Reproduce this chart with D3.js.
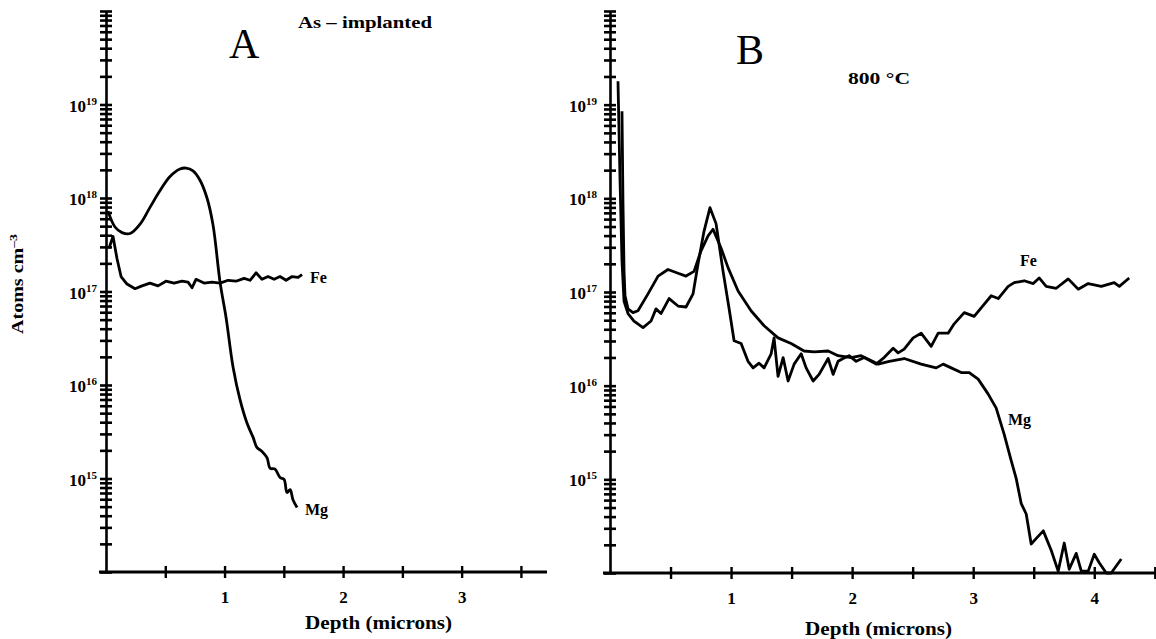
<!DOCTYPE html>
<html>
<head>
<meta charset="utf-8">
<script src="https://cdn.jsdelivr.net/npm/d3@7"></script>
<style>
    body { margin: 0; background: #fff; }
    svg { display: block; }
    .lbl { font-family: "Liberation Serif", serif; font-weight: bold; fill: #000; }
</style>
</head>
<body>
<svg id="chart" width="1156" height="639"></svg>
<script>
// depth in microns, concentration stored as log10(atoms cm^-3)
const decadeLabels = [15, 16, 17, 18, 19];
const xTicksA = [0.5, 1, 1.5, 2, 2.5, 3, 3.5];
const xTicksB = [0.5, 1, 1.5, 2, 2.5, 3, 3.5, 4, 4.5];

// Panel A : as-implanted
const feA = [
    [0.025, 17.46], [0.059, 17.59], [0.093, 17.35], [0.127, 17.16], [0.177, 17.08],
    [0.245, 17.03], [0.304, 17.06], [0.371, 17.09], [0.439, 17.06], [0.506, 17.11],
    [0.574, 17.09], [0.641, 17.11], [0.692, 17.10], [0.726, 17.04], [0.759, 17.13],
    [0.827, 17.09], [0.895, 17.10], [0.962, 17.09], [1.030, 17.12], [1.097, 17.11],
    [1.165, 17.14], [1.215, 17.12], [1.266, 17.20], [1.316, 17.13], [1.367, 17.16],
    [1.418, 17.13], [1.468, 17.16], [1.519, 17.12], [1.570, 17.16], [1.620, 17.15],
    [1.654, 17.18]
];
const mgA = [
    [0.017, 17.86], [0.076, 17.69], [0.135, 17.63], [0.203, 17.62], [0.287, 17.72],
    [0.371, 17.90], [0.456, 18.08], [0.540, 18.23], [0.624, 18.31], [0.675, 18.32],
    [0.734, 18.29], [0.793, 18.19], [0.852, 18.00], [0.903, 17.71], [0.962, 17.10],
    [1.013, 16.72], [1.072, 16.19], [1.131, 15.84], [1.190, 15.59], [1.241, 15.44],
    [1.274, 15.33], [1.316, 15.29], [1.359, 15.22], [1.384, 15.11], [1.426, 15.10],
    [1.468, 15.01], [1.502, 14.99], [1.527, 14.85], [1.553, 14.88], [1.578, 14.77],
    [1.612, 14.69]
];

// Panel B : 800 C anneal
const feB = [
    [0.066, 19.25], [0.083, 18.19], [0.099, 17.33], [0.116, 16.90], [0.149, 16.77],
    [0.198, 16.69], [0.273, 16.62], [0.339, 16.69], [0.380, 16.82], [0.421, 16.77],
    [0.488, 16.93], [0.562, 16.85], [0.628, 16.84], [0.686, 16.98], [0.727, 17.30],
    [0.777, 17.65], [0.826, 17.90], [0.876, 17.73], [0.934, 17.22], [0.983, 16.83],
    [1.025, 16.48], [1.083, 16.45], [1.140, 16.26], [1.182, 16.19], [1.231, 16.24],
    [1.273, 16.19], [1.331, 16.34], [1.355, 16.51], [1.388, 16.10], [1.430, 16.30],
    [1.471, 16.05], [1.521, 16.23], [1.579, 16.34], [1.620, 16.19], [1.678, 16.05],
    [1.727, 16.12], [1.802, 16.29], [1.843, 16.12], [1.884, 16.26], [1.926, 16.29],
    [1.975, 16.32], [2.033, 16.26], [2.099, 16.30], [2.157, 16.26], [2.198, 16.23],
    [2.264, 16.30], [2.339, 16.40], [2.380, 16.35], [2.430, 16.39], [2.504, 16.51],
    [2.570, 16.56], [2.653, 16.42], [2.711, 16.56], [2.793, 16.56], [2.843, 16.66],
    [2.926, 16.78], [3.008, 16.74], [3.066, 16.83], [3.149, 16.96], [3.207, 16.93],
    [3.289, 17.06], [3.339, 17.10], [3.421, 17.12], [3.496, 17.09], [3.545, 17.15],
    [3.603, 17.06], [3.686, 17.04], [3.785, 17.14], [3.868, 17.03], [3.950, 17.09],
    [4.058, 17.06], [4.165, 17.10], [4.207, 17.06], [4.289, 17.15]
];
const mgB = [
    [0.099, 18.93], [0.107, 17.97], [0.116, 17.22], [0.124, 16.96], [0.149, 16.82],
    [0.190, 16.78], [0.231, 16.80], [0.314, 16.98], [0.397, 17.17], [0.479, 17.24],
    [0.562, 17.20], [0.628, 17.17], [0.694, 17.22], [0.752, 17.44], [0.810, 17.60],
    [0.851, 17.67], [0.917, 17.47], [0.975, 17.26], [1.058, 17.01], [1.165, 16.80],
    [1.273, 16.64], [1.388, 16.51], [1.496, 16.45], [1.603, 16.37], [1.686, 16.36],
    [1.802, 16.37], [1.884, 16.32], [1.992, 16.30], [2.074, 16.32], [2.215, 16.23],
    [2.306, 16.26], [2.430, 16.29], [2.570, 16.23], [2.694, 16.19], [2.752, 16.23],
    [2.818, 16.19], [2.901, 16.14], [2.967, 16.14], [3.041, 16.07], [3.124, 15.91],
    [3.190, 15.76], [3.256, 15.48], [3.314, 15.20], [3.355, 15.01], [3.397, 14.74],
    [3.438, 14.63], [3.479, 14.31], [3.521, 14.37], [3.579, 14.45], [3.645, 14.24],
    [3.702, 14.02], [3.752, 14.32], [3.793, 14.04], [3.851, 14.21], [3.893, 14.02],
    [3.950, 14.02], [4.000, 14.20], [4.041, 14.11], [4.099, 14.00], [4.140, 14.00],
    [4.223, 14.15]
];

const svg = d3.select('#chart');

function drawPanel(cfg) {
    const x = d3.scaleLinear().domain([0, cfg.xMax]).range([cfg.x0, cfg.x1]);
    const y = d3.scaleLog().domain([1e14, 1e20]).range([cfg.y0, 11]);
    const g = svg.append('g');

    // log axis, ticks crossing the line
    const yAxis = g.append('g')
        .attr('transform', `translate(${cfg.x0},0)`)
        .call(d3.axisLeft(y).tickValues(y.ticks()).tickFormat('').tickSize(6).tickSizeOuter(0));
    yAxis.select('.domain').attr('stroke-width', 2.6);
    yAxis.selectAll('.tick line').attr('x1', 6).attr('x2', -6).attr('stroke-width', 2.6);

    const xAxis = g.append('g')
        .attr('transform', `translate(0,${cfg.y0})`)
        .call(d3.axisBottom(x).tickValues(cfg.xTicks).tickSize(5).tickSizeOuter(0)
            .tickFormat(d => Number.isInteger(d) ? d : ''));
    xAxis.select('.domain').attr('d', `M${cfg.x0 - 7},0H${cfg.x1}`).attr('stroke-width', 2.8);
    xAxis.selectAll('.tick line').attr('y1', -6).attr('y2', 6).attr('stroke-width', 2.4);
    xAxis.selectAll('.tick text')
        .attr('class', 'lbl')
        .attr('y', 31).attr('dy', 0)
        .style('font-size', '17px');

    // decade labels
    g.selectAll('.dec')
        .data(decadeLabels)
        .join('text')
        .attr('class', 'lbl dec')
        .attr('x', cfg.x0 - cfg.labelGap)
        .attr('y', d => y(10 ** d) + 7)
        .attr('text-anchor', 'end')
        .style('font-size', '17px')
        .text('10')
        .append('tspan')
        .attr('dy', -7)
        .style('font-size', '11px')
        .text(d => d);

    const line = d3.line()
        .x(d => x(d[0]))
        .y(d => y(10 ** d[1]));

    cfg.series.forEach(s => {
        g.append('path')
            .datum(s.data)
            .attr('fill', 'none')
            .attr('stroke', '#000')
            .attr('stroke-width', 2.8)
            .attr('stroke-linejoin', 'round')
            .attr('d', line.curve(s.smooth ? d3.curveCatmullRom : d3.curveLinear));
        g.append('text')
            .attr('class', 'lbl')
            .attr('x', s.lx).attr('y', s.ly)
            .style('font-size', '16px')
            .text(s.name);
    });

    g.append('text')
        .attr('x', cfg.letterX).attr('y', cfg.letterY)
        .style('font-family', '"Liberation Serif", serif')
        .style('font-size', '42px')
        .text(cfg.letter);

    g.append('text')
        .attr('class', 'lbl')
        .attr('x', cfg.titleX).attr('y', cfg.titleY)
        .attr('textLength', cfg.titleW)
        .attr('lengthAdjust', 'spacingAndGlyphs')
        .style('font-size', '17px')
        .text(cfg.title);

    g.append('text')
        .attr('class', 'lbl')
        .attr('x', cfg.depthX).attr('y', cfg.depthY)
        .attr('textLength', 147)
        .attr('lengthAdjust', 'spacingAndGlyphs')
        .style('font-size', '18px')
        .text('Depth (microns)');
}

drawPanel({
    x0: 106, x1: 547, y0: 572, xMax: 3.72, xTicks: xTicksA, labelGap: 9,
    series: [
        { name: 'Fe', data: feA, smooth: false, lx: 310, ly: 283 },
        { name: 'Mg', data: mgA, smooth: true, lx: 305, ly: 515 }
    ],
    letter: 'A', letterX: 229, letterY: 58,
    title: 'As – implanted', titleX: 298, titleY: 28, titleW: 134,
    depthX: 305, depthY: 629
});

drawPanel({
    x0: 610, x1: 1156, y0: 573, xMax: 4.51, xTicks: xTicksB, labelGap: 13,
    series: [
        { name: 'Fe', data: feB, smooth: false, lx: 1020, ly: 266 },
        { name: 'Mg', data: mgB, smooth: false, lx: 1008, ly: 425 }
    ],
    letter: 'B', letterX: 736, letterY: 64,
    title: '800 °C', titleX: 848, titleY: 84, titleW: 62,
    depthX: 805, depthY: 635
});

// shared y title
const yTitle = svg.append('text')
    .attr('class', 'lbl')
    .attr('transform', 'translate(23,334) rotate(-90)')
    .attr('textLength', 100)
    .attr('lengthAdjust', 'spacingAndGlyphs')
    .style('font-size', '16px')
    .text('Atoms cm');
yTitle.append('tspan').attr('dy', -6).style('font-size', '11px').text('–3');
</script>
</body>
</html>
